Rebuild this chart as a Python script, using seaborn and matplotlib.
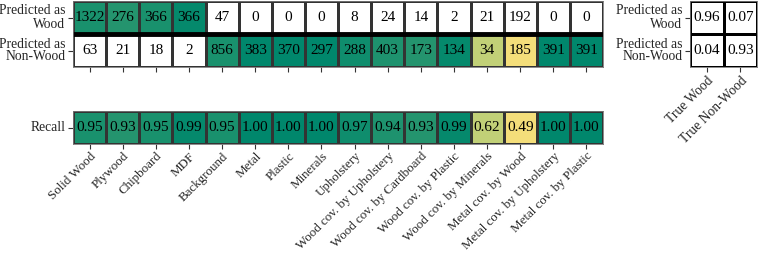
import numpy as np
import pandas as pd
import matplotlib
matplotlib.use("Agg")
import matplotlib.pyplot as plt
import seaborn as sns
from matplotlib.colors import LinearSegmentedColormap

# classes along the x axis
classes = ["Solid Wood", "Plywood", "Chipboard", "MDF", "Background", "Metal",
           "Plastic", "Minerals", "Upholstery", "Wood cov. by Upholstery",
           "Wood cov. by Cardboard", "Wood cov. by Plastic", "Wood cov. by Minerals",
           "Metal cov. by Wood", "Metal cov. by Upholstery", "Metal cov. by Plastic"]
pred_rows = ["Predicted as\nWood", "Predicted as\nNon-Wood"]

# counts per class
pred_wood = [1322, 276, 366, 366, 47, 0, 0, 0, 8, 24, 14, 2, 21, 192, 0, 0]
pred_nonwood = [63, 21, 18, 2, 856, 383, 370, 297, 288, 403, 173, 134, 34, 185, 391, 391]
# 1 = wood target, 0 = non-wood target
is_wood = [1, 1, 1, 1, 0, 0, 0, 0, 0, 0, 0, 0, 0, 0, 0, 0]
recall = [0.95, 0.93, 0.95, 0.99, 0.95, 1.00, 1.00, 1.00, 0.97, 0.94, 0.93, 0.99,
          0.62, 0.49, 1.00, 1.00]

# binary summary
true_cols = ["True Wood", "True Non-Wood"]
summary_wood = [0.96, 0.07]
summary_nonwood = [0.04, 0.93]

sns.set_style("white")
plt.rcParams["font.family"] = ["Liberation Serif", "DejaVu Serif"]
plt.rcParams["font.size"] = 10

cmap = LinearSegmentedColormap.from_list(
    "yg", [(0.0, "#f4de7a"), (0.25, "#c2d077"), (1.0, "#00876c")])
cmap.set_under("white")

counts = pd.DataFrame([pred_wood, pred_nonwood], index=pred_rows, columns=classes)
colors = np.full((2, len(classes)), -1.0)
for j, w in enumerate(is_wood):
    colors[0 if w else 1, j] = recall[j]

fig = plt.figure(figsize=(7.58, 2.57), dpi=100)
W, H = 758, 257
lab_fs = 9.8
num_fs = 11


def box(x0, y0, x1, y1):
    return [x0 / W, 1 - y1 / H, (x1 - x0) / W, (y1 - y0) / H]


ax1 = fig.add_axes(box(73, 1, 603, 67))
sns.heatmap(colors, ax=ax1, cmap=cmap, vmin=0.49, vmax=1.0, cbar=False,
            annot=counts.values, fmt="d", annot_kws={"color": "black", "fontsize": num_fs},
            linewidths=0.8, linecolor="#333333")
ax1.set_xticks(np.arange(len(classes)) + 0.5)
ax1.set_xticklabels([])
ax1.set_yticks([0.5, 1.5])
ax1.set_yticklabels(pred_rows, rotation=0, ha="right", fontsize=lab_fs, linespacing=1.0)
ax1.axhline(1, color="black", lw=3.5)

ax2 = fig.add_axes(box(73, 111, 603, 144))
rec = pd.DataFrame([recall], index=["Recall"], columns=classes)
sns.heatmap(rec, ax=ax2, cmap=cmap, vmin=0.49, vmax=1.0, cbar=False,
            annot=True, fmt=".2f", annot_kws={"color": "black", "fontsize": num_fs},
            linewidths=0.8, linecolor="#333333")
ax2.set_yticklabels(["Recall"], rotation=0, fontsize=lab_fs)
ax2.set_xticklabels(classes, rotation=45, ha="right", rotation_mode="anchor", fontsize=9.4)

ax3 = fig.add_axes(box(690, 1, 757, 67))
summ = pd.DataFrame([summary_wood, summary_nonwood], index=pred_rows, columns=true_cols)
sns.heatmap(summ, ax=ax3, cmap=LinearSegmentedColormap.from_list("w", ["white", "white"]),
            cbar=False, annot=True, fmt=".2f", annot_kws={"color": "black", "fontsize": num_fs},
            linewidths=0.8, linecolor="black")
ax3.set_yticklabels(pred_rows, rotation=0, ha="right", fontsize=lab_fs, linespacing=1.0)
ax3.set_xticklabels(true_cols, rotation=45, ha="right", rotation_mode="anchor", fontsize=lab_fs)

for ax in (ax1, ax2, ax3):
    ax.tick_params(left=True, bottom=True, length=3.5, width=0.8, color="#333333", pad=2)
    for s in ax.spines.values():
        s.set_visible(True)
        s.set_color("#777777")
        s.set_linewidth(0.6)
    ax.set_xlabel("")
    ax.set_ylabel("")
ax2.tick_params(axis="x", pad=1)

fig.savefig("out.png", dpi=100)
